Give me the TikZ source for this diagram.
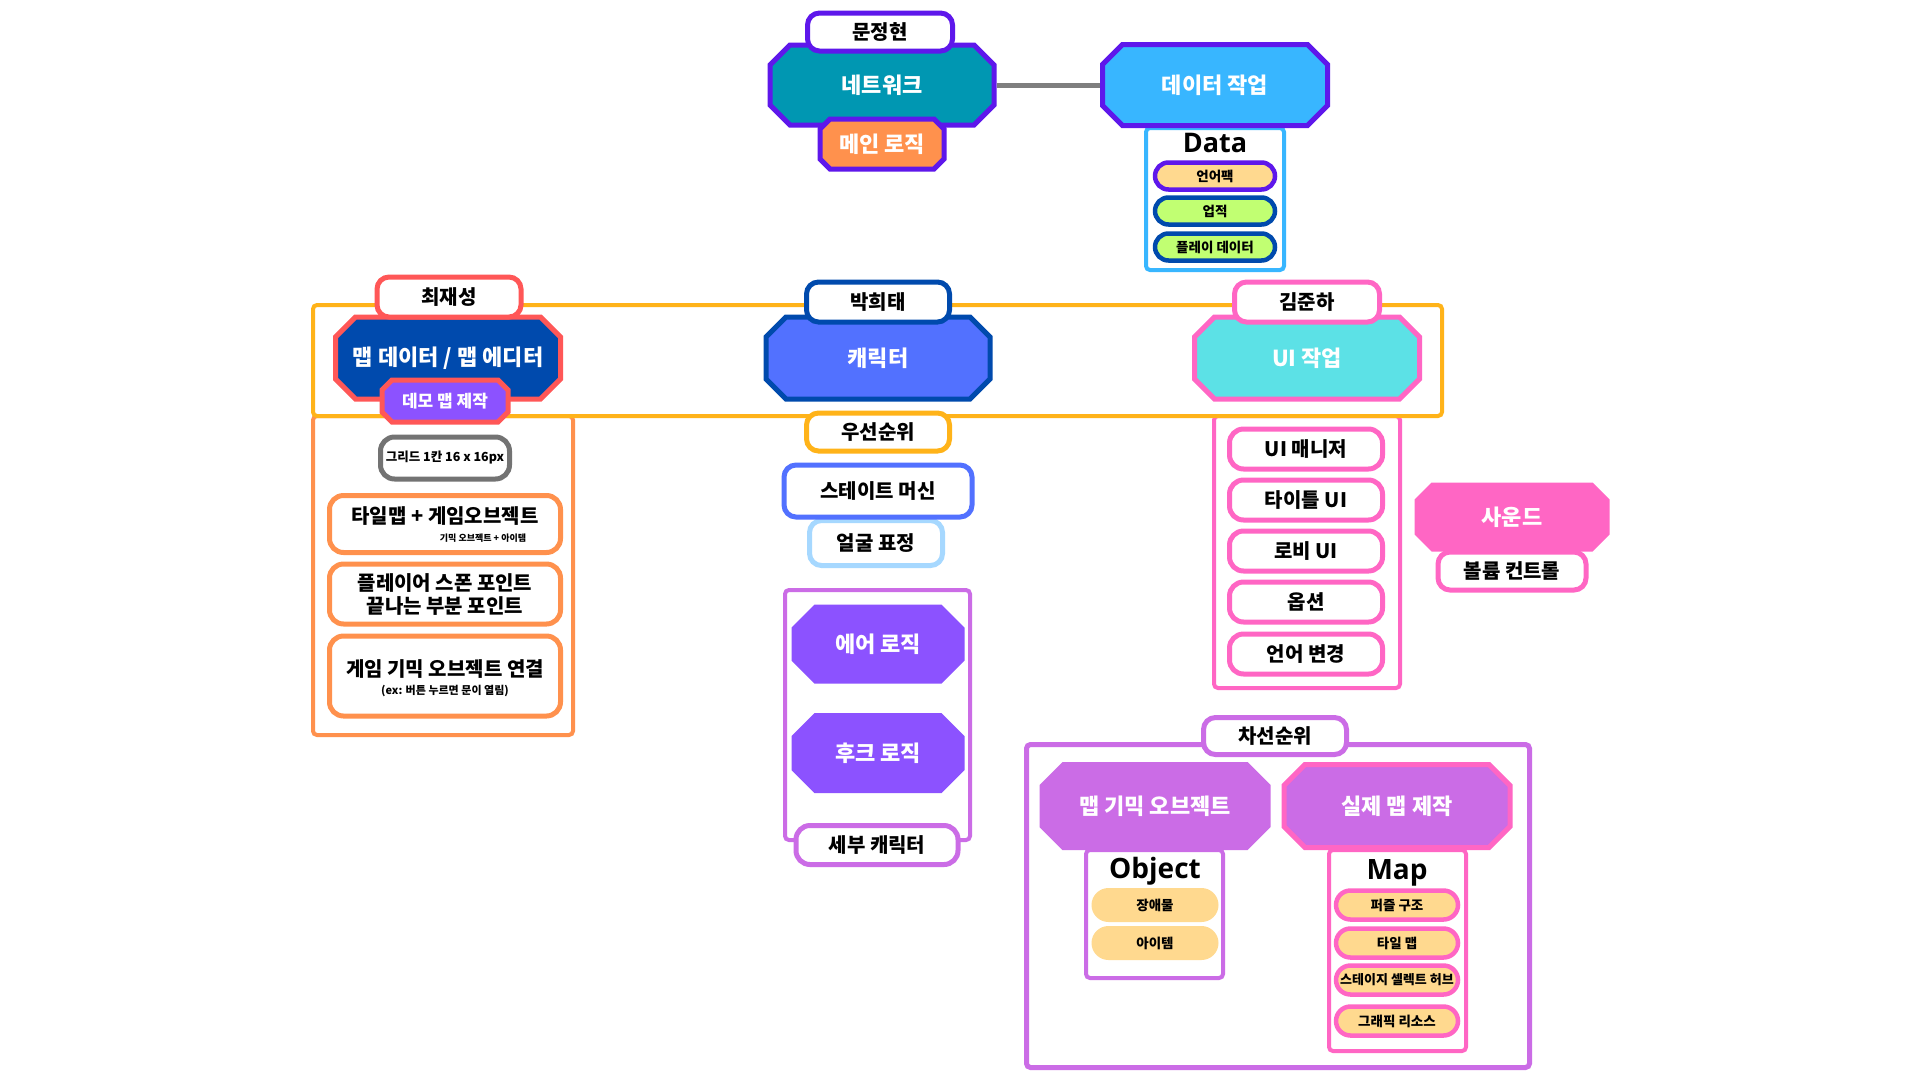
\documentclass[tikz,border=0pt]{standalone}
\usepackage{fontspec}
\setmainfont{Noto Sans CJK KR}
\newfontfamily\latinf{Open Sans}
\definecolor{cPur}{HTML}{5E17EB}
\definecolor{cTeal}{HTML}{0097B2}
\definecolor{cOrg}{HTML}{FF914D}
\definecolor{cSky}{HTML}{38B6FF}
\definecolor{cPeach}{HTML}{FFD98F}
\definecolor{cLime}{HTML}{C1FF72}
\definecolor{cNavy}{HTML}{004AAD}
\definecolor{cAmber}{HTML}{FFB319}
\definecolor{cRed}{HTML}{FF5757}
\definecolor{cViolet}{HTML}{8C52FF}
\definecolor{cGray}{HTML}{737373}
\definecolor{cLine}{HTML}{7F7F7F}
\definecolor{cBlue}{HTML}{5271FF}
\definecolor{cIce}{HTML}{A6D8FF}
\definecolor{cLav}{HTML}{CB6CE6}
\definecolor{cPink}{HTML}{FF66C4}
\definecolor{cAqua}{HTML}{5CE1E6}
\newcommand{\octa}[8]{%
 \path[#7] ({#2-(#4)/2+#6},{#3-(#5)/2}) -- ({#2+(#4)/2-#6},{#3-(#5)/2}) -- ({#2+(#4)/2},{#3-(#5)/2+#6}) -- ({#2+(#4)/2},{#3+(#5)/2-#6}) -- ({#2+(#4)/2-#6},{#3+(#5)/2}) -- ({#2-(#4)/2+#6},{#3+(#5)/2}) -- ({#2-(#4)/2},{#3+(#5)/2-#6}) -- ({#2-(#4)/2},{#3-(#5)/2+#6}) -- cycle;
 \node[octtext, minimum width=#4, minimum height=#5] (#1) at (#2,#3) {#8};
}
\tikzset{
 wh/.style 2 args={minimum width=#1, minimum height=#2},
 lbl/.style={draw=#1, fill=white, rounded corners=12pt, line width=5pt, inner sep=0pt, font=\fontsize{20}{22}\selectfont\bfseries, text=black},
 itembox/.style={draw=#1, fill=white, rounded corners=14pt, line width=5pt, inner sep=0pt, font=\fontsize{20}{23}\selectfont\bfseries, text=black, align=center},
 pill/.style={rounded corners=13.5pt, line width=4.5pt, inner sep=0pt, font=\fontsize{13.5}{15}\selectfont\bfseries, text=black},
 octtext/.style={inner sep=0pt, font=\fontsize{22}{24}\selectfont\bfseries, text=white},
 frame/.style={draw=#1, line width=4pt, rounded corners=4pt},
 plain/.style={inner sep=0pt, text=black},
 conn/.style={draw=cLine, line width=5pt}
}
\begin{document}
\begin{tikzpicture}[x=1pt,y=-1pt]
\useasboundingbox (0,0) rectangle (1920,1080);
\fill[white] (0,0) rectangle (1920,1080);

% containers
\draw[frame=cSky] (1146,128) rectangle (1284,270);
\draw[frame=cOrg] (313,416) rectangle (573,735);
\draw[frame=cPink] (1214,416) rectangle (1400,688);
\draw[frame=cLav] (785,590) rectangle (970,840);
\draw[frame=cLav, line width=5pt] (1026.5,744.5) rectangle (1529.5,1067.5);
\draw[frame=cLav] (1086,850) rectangle (1223,978);
\draw[frame=cPink] (1329,850) rectangle (1466,1051);
\draw[frame=cAmber] (313,305) rectangle (1442,416);

% top group
\octa{net}{882}{85}{224}{80}{20}{fill=cTeal, draw=cPur, line width=5pt}{네트워크}
\octa{mainlogic}{882}{144}{124}{50}{10}{fill=cOrg, draw=cPur, line width=5pt}{메인 로직}
\node[lbl=cPur, wh={145}{38}] (mjh) at (880,32) {문정현};
\octa{dataw}{1215}{85}{225}{81}{20}{fill=cSky, draw=cPur, line width=5pt}{데이터 작업}
\node[plain, font=\latinf\fontsize{27}{30}\selectfont\bfseries] (datat) at (1215,143) {Data};
\node[pill, draw=cPur, fill=cPeach, wh={120}{27}] (langpack) at (1215,176) {언어팩};
\node[pill, draw=cNavy, fill=cLime, wh={120}{27}] (achieve) at (1215,211) {업적};
\node[pill, draw=cNavy, fill=cLime, wh={120}{27}] (playdata) at (1215,247) {플레이 데이터};

% left column
\octa{mapdata}{448}{358}{225}{82}{20}{fill=cNavy, draw=cRed, line width=5pt}{맵 데이터 / 맵 에디터}
\octa{demo}{445}{401}{126}{42}{10}{fill=cViolet, draw=cRed, line width=5pt}{\fontsize{17}{19}\selectfont 데모 맵 제작}
\node[lbl=cRed, wh={144}{40}] (cjs) at (449,297) {최재성};
\node[itembox=cGray, wh={129}{42}, font=\fontsize{12.5}{15}\selectfont\bfseries] (grid) at (445,458) {그리드 1칸 16 x 16px};
\node[itembox=cOrg, wh={231}{57}] (tilemap) at (445,524) {};
\node[plain, font=\fontsize{20}{22}\selectfont\bfseries] (tilemapT) at (445,516) {타일맵 + 게임오브젝트};
\node[plain, font=\fontsize{9}{10}\selectfont\bfseries] (tilemapS) at (483,538) {기믹 오브젝트 + 아이템};
\node[itembox=cOrg, wh={231}{60}] (spawn) at (445,594) {플레이어 스폰 포인트\\끝나는 부분 포인트};
\node[itembox=cOrg, wh={231}{80}] (gimmick) at (445,676) {};
\node[plain, font=\fontsize{20}{22}\selectfont\bfseries] (gimmickT) at (445,669) {게임 기믹 오브젝트 연결};
\node[plain, font=\fontsize{11}{12}\selectfont\bfseries] (gimmickS) at (445,691) {(ex: 버튼 누르면 문이 열림)};

% middle column
\octa{char}{878}{358}{224}{82}{20}{fill=cBlue, draw=cNavy, line width=5pt}{캐릭터}
\node[lbl=cNavy, wh={143}{40}] (pht) at (878,302) {박희태};
\node[lbl=cAmber, wh={143}{38}] (priority) at (878,432) {우선순위};
\node[lbl=cIce, wh={133}{45}] (face) at (876,543) {얼굴 표정};
\node[lbl=cBlue, wh={188}{52}] (statem) at (878,491) {스테이트 머신};
\octa{air}{878}{644}{173}{79}{23}{fill=cViolet}{에어 로직}
\octa{hook}{878}{753}{173}{80}{23}{fill=cViolet}{후크 로직}
\node[lbl=cLav, rounded corners=14pt, wh={162}{39}] (detail) at (877,845) {세부 캐릭터};

% right column
\octa{ui}{1307}{358}{225}{82}{20}{fill=cAqua, draw=cPink, line width=5pt}{UI 작업}
\node[lbl=cPink, wh={145}{40}] (kjh) at (1307,302) {김준하};
\node[itembox=cPink, wh={153}{40}] (uimgr) at (1306,449) {UI 매니저};
\node[itembox=cPink, wh={153}{40}] (titleui) at (1306,500) {타이틀 UI};
\node[itembox=cPink, wh={153}{40}] (lobbyui) at (1306,551) {로비 UI};
\node[itembox=cPink, wh={153}{40}] (option) at (1306,602) {옵션};
\node[itembox=cPink, wh={153}{40}] (langch) at (1306,654) {언어 변경};
\node[lbl=cPink, wh={148}{38}] (volume) at (1512,571) {볼륨 컨트롤};
\octa{sound}{1512}{517}{195}{69}{17}{fill=cPink}{사운드}

% bottom group
\octa{gimobj}{1155}{806}{231}{88}{23}{fill=cLav}{맵 기믹 오브젝트}
\octa{realmap}{1397}{806}{226}{83}{21}{fill=cLav, draw=cPink, line width=5pt}{실제 맵 제작}
\node[lbl=cLav, wh={143}{37}] (sub) at (1275,736) {차선순위};
\node[plain, font=\latinf\fontsize{28}{30}\selectfont\bfseries] (objt) at (1155,871) {Object};
\node[pill, fill=cPeach, wh={127}{34}, rounded corners=17pt] (obstacle) at (1155,905) {장애물};
\node[pill, fill=cPeach, wh={127}{34}, rounded corners=17pt] (itemp) at (1155,943) {아이템};
\node[plain, font=\latinf\fontsize{28}{30}\selectfont\bfseries] (mapt) at (1397,873) {Map};
\node[pill, draw=cPink, fill=cPeach, wh={122}{29}, rounded corners=14.5pt] (puzzle) at (1397,905) {퍼즐 구조};
\node[pill, draw=cPink, fill=cPeach, wh={122}{29}, rounded corners=14.5pt, font=\fontsize{13}{14}\selectfont\bfseries] (stage) at (1397,980) {스테이지 셀렉트 허브};
\node[pill, draw=cPink, fill=cPeach, wh={122}{29}, rounded corners=14.5pt] (tilep) at (1397,943) {타일 맵};
\node[pill, draw=cPink, fill=cPeach, wh={122}{29}, rounded corners=14.5pt] (graphic) at (1397,1021) {그래픽 리소스};

% connector
\draw[conn, shorten <=2.5pt, shorten >=2.5pt] (net.east) -- (dataw.west);
\end{tikzpicture}
\end{document}
